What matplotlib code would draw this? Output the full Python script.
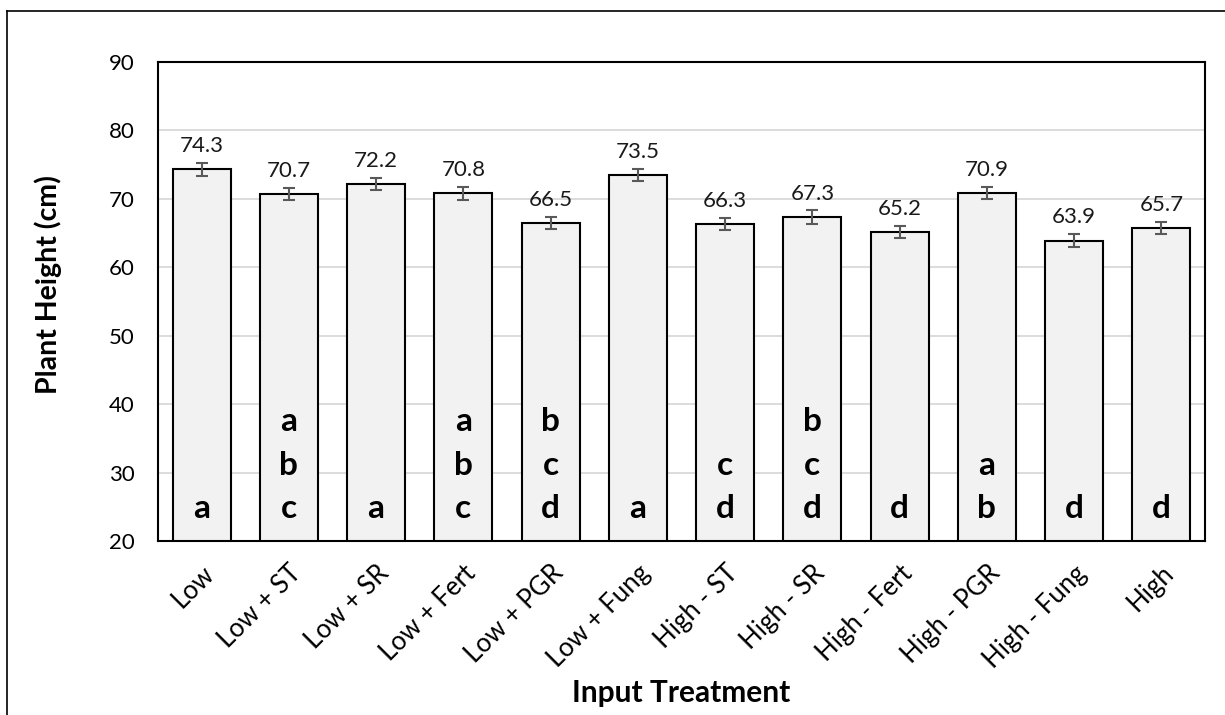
import matplotlib
matplotlib.use("Agg")
import matplotlib.pyplot as plt
from matplotlib.lines import Line2D

categories = ["Low", "Low + ST", "Low + SR", "Low + Fert", "Low + PGR", "Low + Fung",
              "High - ST", "High - SR", "High - Fert", "High - PGR", "High - Fung", "High"]
heights = [74.3, 70.7, 72.2, 70.8, 66.5, 73.5, 66.3, 67.3, 65.2, 70.9, 63.9, 65.7]
errors = [0.9, 0.9, 0.9, 0.9, 0.9, 0.9, 0.9, 1.0, 0.9, 0.9, 0.9, 0.9]
letters = ["a", "a\nb\nc", "a", "a\nb\nc", "b\nc\nd", "a", "c\nd", "b\nc\nd", "d", "a\nb", "d", "d"]
yticks = [20, 30, 40, 50, 60, 70, 80, 90]

plt.rcParams['font.family'] = ['Lato', 'DejaVu Sans']

fig = plt.figure(figsize=(12.25, 7.15), dpi=100)
L, R, T, B = 158, 1205, 62, 541
ax = fig.add_axes([L/1225, 1 - B/715, (R-L)/1225, (B-T)/715])

x = list(range(len(categories)))
ax.bar(x, heights, width=0.665, color="#f2f2f2", edgecolor="black", linewidth=1.5, zorder=2)
ax.errorbar(x, heights, yerr=errors, fmt="none", ecolor="#595959", elinewidth=1.5,
            capsize=4.5, capthick=1.5, zorder=3)

for xi, h, e, lab in zip(x, heights, errors, letters):
    ax.annotate(f"{h:.1f}", (xi, h + e), xytext=(0, 5), textcoords="offset points",
                ha="center", va="bottom", fontsize=16, color="#1a1a1a")
    ax.text(xi, 22.6, lab, ha="center", va="bottom", fontsize=24, fontweight="bold",
            linespacing=1.6, color="black", zorder=4)

ax.set_xlim(-0.5, len(categories) - 0.5)
ax.set_ylim(20, 90)
ax.set_yticks(yticks)
ax.set_yticklabels([str(t) for t in yticks], fontsize=16)
ax.set_xticks(x)
ax.set_xticklabels(categories, rotation=45, ha="right", rotation_mode="anchor", fontsize=18.5)
ax.tick_params(axis="both", length=0)
ax.tick_params(axis="y", pad=17)
ax.tick_params(axis="x", pad=14)
ax.yaxis.grid(True, color="#d9d9d9", linewidth=1.3, zorder=0)
ax.set_axisbelow(True)
for s in ax.spines.values():
    s.set_color("black")
    s.set_linewidth(1.5)

ax.set_ylabel("Plant Height (cm)", fontsize=20.5, fontweight="bold")
ax.set_xlabel("Input Treatment", fontsize=21.5, fontweight="bold")
ax.yaxis.set_label_coords(-(L-62)/(R-L), (B-285)/(B-T))
ax.xaxis.set_label_coords(0.5, -(679-B)/(B-T))

fig.add_artist(Line2D([7/1225, 1.0], [1 - 11/715, 1 - 11/715], transform=fig.transFigure,
                      color="black", linewidth=1.2))
fig.add_artist(Line2D([7/1225, 7/1225], [0.0, 1 - 11/715], transform=fig.transFigure,
                      color="black", linewidth=1.2))

fig.savefig("out.png", dpi=100)
